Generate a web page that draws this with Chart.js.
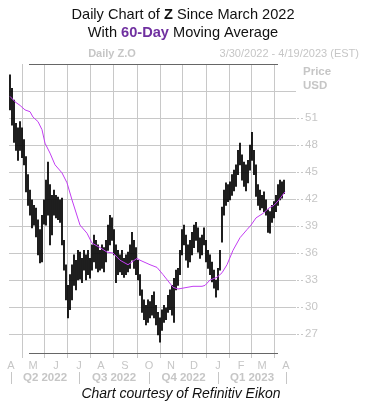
<!DOCTYPE html>
<html>
<head>
<meta charset="utf-8">
<script src="https://cdn.jsdelivr.net/npm/chart.js@4"></script>
<style>
  html, body { margin: 0; padding: 0; background: #fff; }
  canvas { display: block; }
</style>
</head>
<body>
<canvas id="zChart" width="366" height="406"></canvas>
<script>
// --- data (one bar per ~2 trading days) ---
const barHigh = [
  55.8, 54.3, 53.0, 50.4, 49.9, 50.6, 49.9, 48.6, 46.7, 44.7,
  43.0, 41.9, 41.3, 41.0, 39.7, 38.6, 40.2, 41.9, 44.1, 46.1,
  43.6, 42.4, 43.0, 42.4, 42.2, 41.9, 42.1, 37.4, 34.7, 32.4,
  33.6, 34.7, 35.8, 35.2, 36.3, 36.1, 35.4, 36.3, 35.8, 36.3,
  35.4, 36.9, 38.0, 37.4, 36.9, 36.3, 36.9, 36.6, 37.4, 39.1,
  40.2, 39.9, 38.6, 36.9, 36.3, 35.8, 36.3, 35.4, 35.8, 36.1,
  36.9, 38.3, 37.4, 36.6, 35.2, 33.6, 31.9, 30.8, 30.2, 30.8,
  30.6, 31.3, 31.7, 30.2, 29.4, 28.8, 29.7, 30.2, 29.9, 31.3,
  31.9, 32.4, 33.2, 34.1, 34.3, 36.3, 38.6, 39.1, 38.0, 36.9,
  37.4, 38.3, 39.1, 39.4, 38.8, 37.7, 38.0, 38.8, 37.4, 36.3,
  35.8, 35.0, 34.1, 33.0, 34.3, 36.3, 41.1, 43.0, 43.8, 43.6,
  43.9, 44.7, 45.2, 45.8, 47.4, 48.2, 46.9, 46.1, 45.8, 46.3,
  48.0, 49.4, 47.4, 45.8, 43.6, 43.0, 42.4, 42.8, 41.9, 40.8,
  40.6, 41.3, 41.7, 42.4, 43.6, 44.1, 43.9, 44.1
];
const barLow = [
  51.9, 50.2, 48.3, 47.4, 46.3, 47.4, 46.6, 45.8, 42.8, 41.3,
  40.2, 38.8, 39.1, 37.8, 35.8, 34.9, 35.0, 39.2, 39.1, 40.2,
  36.9, 38.0, 40.2, 39.9, 39.7, 39.4, 36.9, 34.1, 30.8, 28.8,
  29.7, 30.8, 32.4, 31.9, 33.0, 33.1, 32.7, 34.1, 33.0, 33.6,
  33.2, 34.1, 35.0, 34.3, 33.9, 34.1, 34.3, 33.9, 35.0, 36.3,
  36.9, 37.4, 35.8, 32.7, 33.6, 33.9, 33.6, 33.3, 33.6, 33.9,
  34.3, 35.2, 34.3, 33.6, 33.0, 31.3, 29.4, 28.6, 28.0, 28.3,
  28.8, 29.1, 28.8, 28.0, 26.9, 26.1, 27.4, 28.3, 28.6, 29.4,
  29.7, 29.1, 28.3, 31.9, 32.4, 33.6, 35.8, 36.9, 35.2, 34.4,
  35.0, 35.8, 36.6, 37.4, 36.1, 35.4, 35.8, 36.9, 35.0, 34.3,
  33.6, 32.8, 32.1, 31.1, 31.9, 34.1, 37.2, 40.2, 41.3, 41.7,
  41.9, 42.4, 42.9, 43.4, 44.7, 45.8, 44.1, 43.4, 42.9, 43.8,
  45.2, 46.3, 44.7, 42.3, 41.3, 40.8, 41.0, 40.6, 40.2, 38.3,
  38.2, 39.4, 39.9, 40.6, 41.3, 41.9, 42.1, 42.6
];

// 60-day moving average, read at these bar positions
const maPos = [
  0, 2.5, 5, 7.5, 10, 11.5, 14, 16, 17.5, 20, 22.5, 26, 28.5, 31, 35, 38.5,
  41, 45, 48.5, 51.5, 55, 59, 63.5, 65, 70, 73.5, 76.5, 81.5, 84, 86.5,
  91.5, 96, 97.5, 100, 103.5, 106, 108.5, 111.5, 115, 118.5, 120.5, 123,
  126.5, 129.5, 132, 134.5, 137.5
];
const maValues = [
  53.4, 52.8, 52.4, 51.9, 51.7, 51.1, 50.6, 49.7, 48.2, 47.1, 45.8, 44.9,
  43.8, 41.9, 39.1, 38.2, 37.1, 36.6, 36.1, 36.0, 35.2, 34.7, 35.4, 35.2,
  34.7, 34.4, 33.6, 32.2, 32.0, 32.1, 32.3, 32.3, 32.4, 33.0, 33.3, 33.8,
  34.7, 36.3, 37.7, 38.6, 39.1, 39.9, 40.4, 41.0, 41.3, 41.9, 42.8
];

// axis ticks
const monthPos = [0.5, 11.5, 23, 34.5, 45.5, 57.5, 69.5, 80.5, 92, 104, 115.5, 126, 138];
const monthLabels = ["A", "M", "J", "J", "A", "S", "O", "N", "D", "J", "F", "M", "A"];
const quarterEdges = [0.5, 34.5, 69.5, 104, 138];
const quarterLabels = ["Q2 2022", "Q3 2022", "Q4 2022", "Q1 2023"];
const priceTicks = [27, 30, 33, 36, 39, 42, 45, 48, 51, 54];

const GREY = "#c6c6c6";
const GRID = "#c8c8c8";

const barData = barHigh.map((h, i) => ({ x: i, y: [barLow[i], h] }));
const maData = maValues.map((v, i) => ({ x: maPos[i], y: v }));

// titles, header, quarter row and credit line
const decorPlugin = {
  id: "decor",
  afterDraw(chart) {
    const ctx = chart.ctx;
    const area = chart.chartArea;
    const xs = chart.scales.x;
    const ys = chart.scales.y;
    ctx.save();

    // mixed-style title lines
    function richLine(parts, cy) {
      let total = 0;
      parts.forEach(p => { ctx.font = p.font; total += ctx.measureText(p.text).width; });
      let x = 183 - total / 2;
      ctx.textBaseline = "middle";
      ctx.textAlign = "left";
      parts.forEach(p => {
        ctx.font = p.font;
        ctx.fillStyle = p.color;
        ctx.fillText(p.text, x, cy);
        x += ctx.measureText(p.text).width;
      });
    }
    const reg = "14.6px 'Liberation Sans', Arial, sans-serif";
    const bold = "bold 14.6px 'Liberation Sans', Arial, sans-serif";
    richLine([
      { text: "Daily Chart of ", font: reg, color: "#111" },
      { text: "Z", font: bold, color: "#111" },
      { text: " Since March 2022", font: reg, color: "#111" }
    ], 15);
    richLine([
      { text: "With ", font: reg, color: "#111" },
      { text: "60-Day", font: bold, color: "#7030a0" },
      { text: " Moving Average", font: reg, color: "#111" }
    ], 33);

    // header above plot
    ctx.fillStyle = GREY;
    ctx.textBaseline = "middle";
    ctx.font = "bold 11px 'Liberation Sans', Arial, sans-serif";
    ctx.textAlign = "center";
    ctx.fillText("Daily Z.O", 112, 54);
    ctx.font = "11px 'Liberation Sans', Arial, sans-serif";
    ctx.textAlign = "right";
    ctx.fillText("3/30/2022 - 4/19/2023 (EST)", 359, 54);
    ctx.font = "bold 11.5px 'Liberation Sans', Arial, sans-serif";
    ctx.textAlign = "left";
    ctx.fillText("Price", 303, 72);
    ctx.fillText("USD", 303, 86);

    // dark frame pieces
    ctx.strokeStyle = "#666";
    ctx.lineWidth = 1;
    ctx.beginPath();
    ctx.moveTo(29, area.top + 0.5); ctx.lineTo(278, area.top + 0.5);
    ctx.moveTo(29, area.bottom + 0.5); ctx.lineTo(278, area.bottom + 0.5);
    ctx.stroke();

    // dashes leading to price labels
    ctx.strokeStyle = GRID;
    ctx.setLineDash([2, 2]);
    ctx.beginPath();
    priceTicks.forEach(v => {
      if (v === 54) return;
      const y = Math.round(ys.getPixelForValue(v)) + 0.5;
      ctx.moveTo(297, y); ctx.lineTo(304, y);
    });
    ctx.stroke();
    ctx.setLineDash([]);

    // quarter row
    ctx.fillStyle = GREY;
    ctx.font = "bold 11.5px 'Liberation Sans', Arial, sans-serif";
    ctx.textAlign = "center";
    quarterLabels.forEach((q, i) => {
      const mid = (xs.getPixelForValue(quarterEdges[i]) + xs.getPixelForValue(quarterEdges[i + 1])) / 2;
      ctx.fillText(q, mid, 378);
    });
    ctx.strokeStyle = GREY;
    ctx.beginPath();
    quarterEdges.forEach(e => {
      const x = Math.round(xs.getPixelForValue(e)) + 0.5;
      ctx.moveTo(x, 372); ctx.lineTo(x, 384);
    });
    ctx.stroke();

    // credit
    ctx.fillStyle = "#111";
    ctx.font = "italic 14px 'Liberation Sans', Arial, sans-serif";
    ctx.fillText("Chart courtesy of Refinitiv Eikon", 181, 394);
    ctx.restore();
  }
};

new Chart(document.getElementById("zChart"), {
  type: "bar",
  data: {
    datasets: [
      {
        type: "line",
        label: "60-Day MA",
        data: maData,
        borderColor: "#c23df2",
        borderWidth: 1,
        pointRadius: 0,
        tension: 0,
        order: 0
      },
      {
        label: "Z",
        data: barData,
        backgroundColor: "#000",
        borderWidth: 0,
        barThickness: 1.1,
        order: 1
      }
    ]
  },
  options: {
    responsive: false,
    animation: false,
    devicePixelRatio: 1,
    layout: { padding: { top: 64, left: 9, right: 0, bottom: 0 } },
    plugins: {
      legend: { display: false },
      title: { display: false },
      tooltip: { enabled: false }
    },
    scales: {
      x: {
        type: "linear",
        min: -0.5,
        max: 138,
        offset: false,
        afterBuildTicks: (scale) => { scale.ticks = monthPos.map(v => ({ value: v })); },
        afterFit: (scale) => { scale.height = 53; },
        grid: { color: GRID, tickLength: 5 },
        border: { display: false },
        ticks: {
          autoSkip: false,
          maxRotation: 0,
          padding: 1,
          color: GREY,
          font: { family: "'Liberation Sans', Arial, sans-serif", size: 11 },
          callback: (v) => monthLabels[monthPos.indexOf(v)]
        }
      },
      y: {
        position: "right",
        min: 24.89,
        max: 57,
        afterBuildTicks: (scale) => { scale.ticks = priceTicks.map(v => ({ value: v })); },
        afterFit: (scale) => { scale.width = 80; },
        grid: { color: GRID, tickLength: 10 },
        border: { display: false },
        ticks: {
          padding: 9,
          color: GREY,
          font: { family: "'Liberation Sans', Arial, sans-serif", size: 11.5 },
          callback: (v) => (v === 54 ? "" : v)
        }
      }
    }
  },
  plugins: [decorPlugin]
});
</script>
</body>
</html>
